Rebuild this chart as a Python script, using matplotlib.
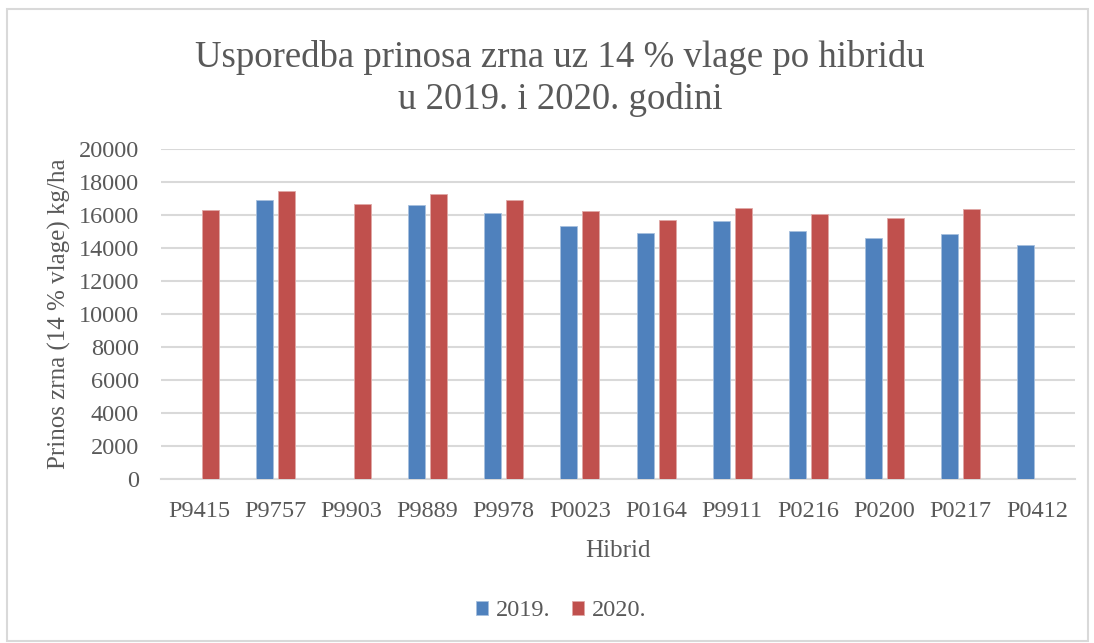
import numpy as np
import matplotlib
matplotlib.use("Agg")
import matplotlib.pyplot as plt
from matplotlib.patches import Rectangle

hibridi = ["P9415", "P9757", "P9903", "P9889", "P9978", "P0023",
           "P0164", "P9911", "P0216", "P0200", "P0217", "P0412"]
prinos_2019 = [np.nan, 16900, np.nan, 16630, 16100, 15330,
               14930, 15620, 15010, 14620, 14870, 14210]
prinos_2020 = [16290, 17450, 16650, 17300, 16930, 16230,
               15720, 16410, 16080, 15820, 16350, np.nan]
y_ticks = list(range(0, 20001, 2000))

plt.rcParams['font.family'] = ['Liberation Serif', 'DejaVu Serif']
text_col = '#595959'
grid_col = '#d9d9d9'

fig = plt.figure(figsize=(10.94, 6.43), dpi=100)
ax = fig.add_axes([161 / 1094, 1 - 479 / 643, (1075 - 161) / 1094, (479 - 149) / 643])

x = np.arange(len(hibridi))
w = 0.223
off = 0.145
ax.bar(x - off, prinos_2019, w, color='#4F81BD', edgecolor='#a7c0de',
       linewidth=0.6, label='2019.', zorder=3)
ax.bar(x + off, prinos_2020, w, color='#C0504D', edgecolor='#e0a8a6',
       linewidth=0.6, label='2020.', zorder=3)

ax.set_xlim(-0.5, len(hibridi) - 0.5)
ax.set_ylim(0, 20000)
ax.set_yticks(y_ticks)
ax.set_xticks(x)
ax.set_xticklabels(hibridi)
ax.grid(axis='y', color=grid_col, linewidth=1.5, zorder=0)
for s in ['top', 'right', 'left']:
    ax.spines[s].set_visible(False)
ax.spines['bottom'].set_color(grid_col)
ax.spines['bottom'].set_linewidth(1.5)
ax.tick_params(axis='both', length=0, labelsize=17.5, colors=text_col)
ax.tick_params(axis='x', pad=16)
ax.tick_params(axis='y', pad=16)

ax.set_xlabel('Hibrid', fontsize=18, color=text_col, labelpad=13)
ax.set_ylabel('Prinos zrna (14 % vlage) kg/ha', fontsize=18, color=text_col, labelpad=5)

fig.text(0.512, 0.878, 'Usporedba prinosa zrna uz 14 % vlage po hibridu\nu 2019. i 2020. godini',
         ha='center', va='center', fontsize=26.5, color=text_col, linespacing=1.25)

leg = fig.legend(loc='center', bbox_to_anchor=(561 / 1094, 1 - 611 / 643), ncol=2,
                 frameon=False, fontsize=17.5, handlelength=0.5, handleheight=0.5,
                 handletextpad=0.3, columnspacing=0.9)
for t in leg.get_texts():
    t.set_color(text_col)

fig.patches.append(Rectangle((7 / 1094, 2 / 643), 1081 / 1094, 632 / 643,
                             transform=fig.transFigure, fill=False,
                             edgecolor=grid_col, linewidth=1.5))

fig.savefig('out.png', dpi=100)
